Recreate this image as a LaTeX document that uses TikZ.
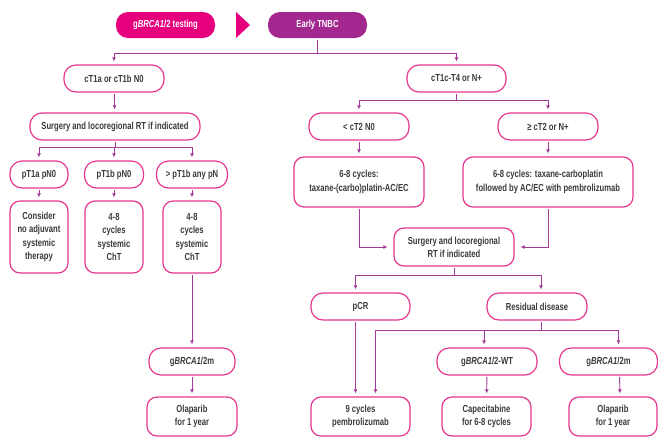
\documentclass[tikz,border=0pt]{standalone}
\usepackage{fontspec}
\setmainfont{Liberation Sans}[FakeStretch=0.75]
\usetikzlibrary{arrows.meta,positioning}
\definecolor{brcapink}{HTML}{E6007E}
\definecolor{tnbcpurple}{HTML}{A2288F}
\definecolor{linkpurple}{HTML}{A43A98}
\definecolor{boxrim}{HTML}{E8368F}
\definecolor{inkgray}{HTML}{3A3A3A}

\begin{document}
\begin{tikzpicture}[
  x=1pt, y=-1pt,
  every node/.style={font=\fontsize{10.2}{13.3}\selectfont\bfseries, align=center, text=inkgray},
  pill/.style={draw=boxrim, line width=1.2pt, rounded corners=12pt, minimum height=27pt, inner sep=2pt},
  block/.style={draw=boxrim, line width=1.2pt, rounded corners=10pt, inner sep=2pt},
  head/.style={rounded corners=12pt, minimum height=26pt, minimum width=99pt, text=white},
  arr/.style={-{Latex[length=4pt,width=4pt]}, line width=0.9pt, draw=linkpurple, shorten >=3pt, shorten <=1.5pt}
]
\useasboundingbox (0,0) rectangle (658,437);

% top line
\node[head, fill=brcapink] (testing) at (165.5,25) {g\textit{BRCA1}/2 testing};
\node[head, fill=tnbcpurple] (tnbc) at (317.5,25) {Early TNBC};
\fill[brcapink] (236,12) -- (250,25) -- (236,38) -- cycle;

% left branch
\node[pill, minimum width=100pt] (small) at (114,78.5) {cT1a or cT1b N0};
\node[pill, minimum width=170pt] (surgL) at (115,126.5) {Surgery and locoregional RT if indicated};
\node[pill, minimum width=58pt] (pTa) at (39,174.5) {pT1a pN0};
\node[pill, minimum width=59pt] (pTb) at (114,174.5) {pT1b pN0};
\node[pill, minimum width=71pt] (pTc) at (192,174.5) {> pT1b any pN};
\node[block, minimum width=58pt, minimum height=72pt] (noChT) at (39,237) {Consider\\no adjuvant\\systemic\\therapy};
\node[block, minimum width=58pt, minimum height=72pt] (chtB) at (114,237) {4-8\\cycles\\systemic\\ChT};
\node[block, minimum width=58pt, minimum height=72pt] (chtC) at (192,237) {4-8\\cycles\\systemic\\ChT};
\node[pill, minimum width=86pt] (mL) at (192,361.5) {g\textit{BRCA1}/2m};
\node[block, minimum width=90pt, minimum height=39pt] (olapL) at (192,416.5) {Olaparib\\for 1 year};

% right branch
\node[pill, minimum width=99pt] (large) at (456.5,78.5) {cT1c-T4 or N+};
\node[pill, minimum width=100pt] (ltT2) at (359,126.5) {< cT2 N0};
\node[pill, minimum width=100pt] (geT2) at (548,126.5) {≥ cT2 or N+};
\node[block, minimum width=130pt, minimum height=50pt] (cyc) at (359,182) {6-8 cycles:\\taxane-(carbo)platin-AC/EC};
\node[block, minimum width=170pt, minimum height=50pt] (cycP) at (548,182) {6-8 cycles: taxane-carboplatin\\followed by AC/EC with pembrolizumab};
\node[block, minimum width=120pt, minimum height=38pt] (surgR) at (454,247) {Surgery and locoregional\\RT if indicated};
\node[pill, minimum width=99pt] (pcr) at (360.5,306.5) {pCR};
\node[pill, minimum width=100pt] (resid) at (537,306.5) {Residual disease};
\node[pill, minimum width=100pt] (wtR) at (487,361.5) {g\textit{BRCA1}/2-WT};
\node[pill, minimum width=98pt] (mR) at (608.5,361.5) {g\textit{BRCA1}/2m};
\node[block, minimum width=99pt, minimum height=39pt] (pembro) at (360.5,416.5) {9 cycles\\pembrolizumab};
\node[block, minimum width=89pt, minimum height=39pt] (cape) at (486.5,416.5) {Capecitabine\\for 6-8 cycles};
\node[block, minimum width=88pt, minimum height=39pt] (olapR) at (613,416.5) {Olaparib\\for 1 year};

% connectors
\draw[arr] (tnbc.south) -- ++(0,15) -| (small.north);
\draw[arr] (tnbc.south) -- ++(0,15) -| (large.north);
\draw[arr] (small) -- (surgL);
\foreach \dst in {pTa,pTb,pTc}
  \draw[arr] (surgL.south) -- ++(0,7) -| (\dst.north);
\foreach \src/\dst in {pTa/noChT, pTb/chtB, pTc/chtC, chtC/mL, mL/olapL}
  \draw[arr] (\src) -- (\dst);

\draw[arr] (large.south) -- ++(0,8) -| (ltT2.north);
\draw[arr] (large.south) -- ++(0,8) -| (geT2.north);
\draw[arr] (ltT2) -- (cyc);
\draw[arr] (geT2) -- (cycP);
\draw[arr, shorten >=6pt] (cyc.south) |- (surgR.west);
\draw[arr, shorten >=6pt] (cycP.south) |- (surgR.east);
\draw[arr] (surgR.south) -- ++(0,9) -| ([xshift=-5pt]pcr.north);
\draw[arr] (surgR.south) -- ++(0,9) -| ([xshift=4pt]resid.north);
\draw[arr] ([xshift=-5pt]pcr.south) -- ([xshift=-5pt]pembro.north);
\draw[arr] ([xshift=4pt]resid.south) -- ++(0,10) -| ([xshift=15pt]pembro.north);
\draw[arr] ([xshift=4pt]resid.south) -- ++(0,10) -| ([xshift=-3pt]wtR.north);
\draw[arr] ([xshift=4pt]resid.south) -- ++(0,10) -| ([xshift=10pt]mR.north);
\draw[arr] (wtR) -- (cape);
\draw[arr] ([xshift=11pt]mR.south) -- ([xshift=7pt]olapR.north);
\end{tikzpicture}
\end{document}
